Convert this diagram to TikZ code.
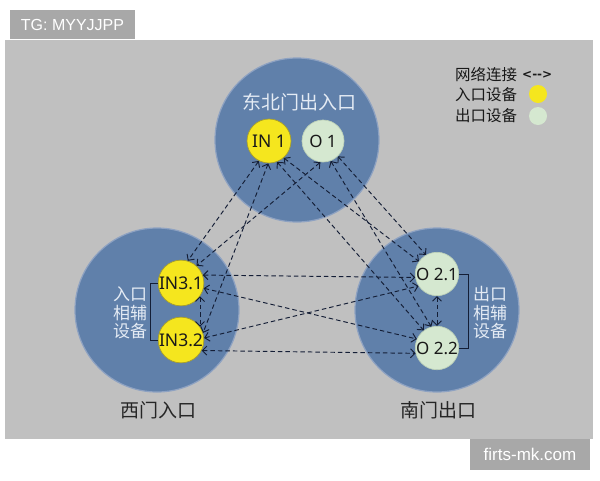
\documentclass[tikz,border=0pt]{standalone}
\usepackage{fontspec}
\setmainfont{Noto Sans}
\newfontfamily\cjk{Noto Sans CJK SC}
\newfontfamily\wmf{Liberation Sans}
\newfontfamily\symf{DejaVu Sans}
\usetikzlibrary{arrows.meta}
\definecolor{panelc}{HTML}{C0C0C0}
\definecolor{zonec}{HTML}{6080AA}
\definecolor{zoneedge}{HTML}{8EA2C2}
\definecolor{yelc}{HTML}{F5E61E}
\definecolor{yeledge}{HTML}{A89F2A}
\definecolor{grnc}{HTML}{D5E8D0}
\definecolor{grnedge}{HTML}{BCD0B8}
\definecolor{linec}{HTML}{141E36}
\definecolor{ltext}{HTML}{E4EBF4}
\definecolor{wmc}{HTML}{A8A8A8}
\begin{document}
\begin{tikzpicture}[x=1pt,y=-1pt,
  zone/.style={circle,fill=zonec,draw=zoneedge,line width=1.2pt,minimum size=164pt,inner sep=0pt},
  indev/.style={circle,fill=yelc,draw=yeledge,line width=0.7pt,minimum size=44pt,inner sep=0pt,text=black!90,font=\fontsize{17.5pt}{20pt}\selectfont},
  outdev/.style={circle,fill=grnc,draw=grnedge,line width=0.7pt,minimum size=42pt,inner sep=0pt,text=black!90,font=\fontsize{17pt}{20pt}\selectfont},
  conn/.style={draw=linec,line width=0.95pt,dash pattern=on 4.5pt off 3pt,
    {Straight Barb[length=4.5pt,width=9pt]}-{Straight Barb[length=4.5pt,width=9pt]}},
  brk/.style={draw=linec,line width=0.9pt},
  zlabel/.style={text=ltext,font=\cjk\fontsize{19pt}{22pt}\selectfont,inner sep=0pt},
  sidelabel/.style={text=ltext,font=\cjk\fontsize{17pt}{18.5pt}\selectfont,align=center,inner sep=0pt},
  blabel/.style={text=black!85,font=\cjk\fontsize{19pt}{22pt}\selectfont,inner sep=0pt},
  legtext/.style={text=black!90,font=\cjk\fontsize{15.5pt}{18pt}\selectfont,inner sep=0pt},
  wmbox/.style={fill=wmc,text=white,inner sep=0pt,font=\wmf\fontsize{16pt}{18pt}\selectfont}
]
\useasboundingbox (0,0) rectangle (600,480);
\fill[white] (0,0) rectangle (600,480);
\fill[panelc] (5,40) rectangle (593,439);

% watermark boxes
\node[wmbox,minimum width=125pt,minimum height=29pt] (tg) at (72.5,24.5) {TG: MYYJJPP};
\node[wmbox,minimum width=120pt,minimum height=31pt,font=\wmf\fontsize{17pt}{19pt}\selectfont] (site) at (530,454) {firts-mk.com};

% zones
\node[zone] (ne) at (297,140) {};
\node[zone] (west) at (157,310) {};
\node[zone] (south) at (437,310) {};

\node[zlabel] (nelab) at (299,102) {东北门出入口};
\node[blabel] (wlab) at (158,410) {西门入口};
\node[blabel] (slab) at (438,410) {南门出口};

% devices
\node[indev] (in1) at (269,141) {IN 1};
\node[outdev] (o1) at (323,141) {O 1};
\node[indev] (in31) at (181,283) {IN3.1};
\node[indev] (in32) at (181,340) {IN3.2};
\node[outdev] (o21) at (437,274) {O 2.1};
\node[outdev] (o22) at (437,348) {O 2.2};

% side labels and brackets
\node[sidelabel] (wside) at (130,313) {入口\\相辅\\设备};
\node[sidelabel] (sside) at (490,313) {出口\\相辅\\设备};
\draw[brk] (in31.west) -- ++(-7,0) |- (in32.west);
\draw[brk] (o21.east) -- ++(9,0) |- (o22.east);

% connections
\draw[conn] (in1.-117) -- (in31.73);
\draw[conn] (in1.-92) -- (in32.18);
\draw[conn] (in1.-69) -- (o22.127);
\draw[conn] (in1.-49) -- (o21.145);
\draw[conn] (o1.-97) -- (in31.48);
\draw[conn] (o1.-69) -- (o22.105);
\draw[conn] (o1.-46) -- (o21.120);
\draw[conn] (in31.-35) -- (in32.35);
\draw[conn] (o21.-90) -- (o22.90);
\draw[conn] (in31.20) -- (o21.-171);
\draw[conn] (in31.-13) -- (o22.156);
\draw[conn] (in32.5) -- (o21.-147);
\draw[conn] (in32.-27) -- (o22.-166);

% legend
\node[legtext] (lg1) at (486,75) {网络连接};
\node[anchor=west,inner sep=0pt,text=black!90,font=\symf\bfseries\fontsize{12pt}{14pt}\selectfont] (lgarrow) at (522,75) {<-{}-{}>};
\node[legtext] (lg2) at (486,95) {入口设备};
\node[circle,fill=yelc,minimum size=18pt,inner sep=0pt] (lgdot1) at (538,94) {};
\node[legtext] (lg3) at (486,116) {出口设备};
\node[circle,fill=grnc,minimum size=18pt,inner sep=0pt] (lgdot2) at (538,116) {};
\end{tikzpicture}
\end{document}
